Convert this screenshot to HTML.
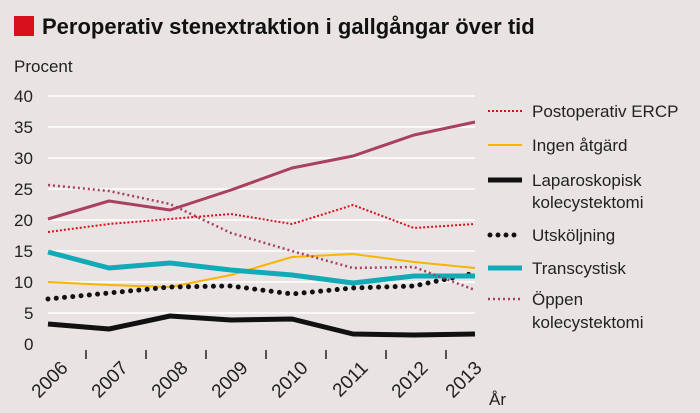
<!DOCTYPE html>
<html><head><meta charset="utf-8"><style>
body{margin:0;background:#e9e4e3;}
svg{display:block;font-family:"Liberation Sans",sans-serif;}
</style></head><body>
<svg width="700" height="413" viewBox="0 0 700 413">
<rect width="700" height="413" fill="#e9e4e3"/>
<rect x="14" y="16" width="20" height="20" fill="#d7101c"/>
<text x="42" y="34" font-size="22" font-weight="bold" fill="#111">Peroperativ stenextraktion i gallgångar över tid</text>
<text x="14" y="72" font-size="17" fill="#222">Procent</text>
<g stroke="#fff" stroke-width="1.5">
<line x1="48" x2="475" y1="96" y2="96"/><line x1="48" x2="475" y1="127" y2="127"/>
<line x1="48" x2="475" y1="158" y2="158"/><line x1="48" x2="475" y1="189" y2="189"/>
<line x1="48" x2="475" y1="220" y2="220"/><line x1="48" x2="475" y1="251" y2="251"/>
<line x1="48" x2="475" y1="282" y2="282"/><line x1="48" x2="475" y1="313" y2="313"/>
</g>
<g font-size="17" fill="#222">
<text x="14" y="102">40</text><text x="14" y="133">35</text><text x="14" y="164">30</text>
<text x="14" y="195">25</text><text x="14" y="226">20</text><text x="14" y="257">15</text>
<text x="14" y="288">10</text><text x="24" y="319">5</text><text x="24" y="350">0</text>
</g>
<g stroke="#222" stroke-width="1.5">
<line x1="86" x2="86" y1="350" y2="359"/><line x1="146" x2="146" y1="350" y2="359"/>
<line x1="206" x2="206" y1="350" y2="359"/><line x1="266" x2="266" y1="350" y2="359"/>
<line x1="326" x2="326" y1="350" y2="359"/><line x1="386" x2="386" y1="350" y2="359"/>
<line x1="446" x2="446" y1="350" y2="359"/>
</g>
<g font-size="19" fill="#222" text-anchor="end">
<text transform="translate(69,369) rotate(-45)">2006</text>
<text transform="translate(129,369) rotate(-45)">2007</text>
<text transform="translate(189,369) rotate(-45)">2008</text>
<text transform="translate(249,369) rotate(-45)">2009</text>
<text transform="translate(309,369) rotate(-45)">2010</text>
<text transform="translate(369,369) rotate(-45)">2011</text>
<text transform="translate(429,369) rotate(-45)">2012</text>
<text transform="translate(483,369) rotate(-45)">2013</text>
</g>
<text x="489" y="405" font-size="17" fill="#222">År</text>
<g fill="none" stroke-linejoin="round">
<polyline stroke="#a8405e" stroke-width="3" points="48,219 109,201 170,210 231,190 292,168 353,156 414,135 475,122"/>
<polyline stroke="#d7101c" stroke-width="2" stroke-dasharray="2,2" points="48,232 109,224 170,219 231,214 292,224 353,205 414,228 475,224"/>
<polyline stroke="#f7b500" stroke-width="2" points="48,282 109,285 170,287 231,275 292,257 353,254 414,262 475,268"/>
<polyline stroke="#111" stroke-width="5" points="48,324 109,329 170,316 231,320 292,319 353,334 414,335 475,334"/>
<polyline stroke="#111" stroke-width="5" stroke-linecap="round" stroke-dasharray="0,8.3" points="48,299 109,293 170,287 231,286 292,294 353,288 414,286 475,273"/>
<polyline stroke="#13aab7" stroke-width="5" points="48,252 109,268 170,263 231,270 292,275 353,283 414,276 475,276"/>
<polyline stroke="#a8405e" stroke-width="2.5" stroke-dasharray="2,3" points="48,185 109,191 170,204 231,233 292,251 353,268 414,267 475,290"/>
</g>
<g fill="none">
<line x1="488" x2="522" y1="111" y2="111" stroke="#d7101c" stroke-width="2" stroke-dasharray="2,2"/>
<line x1="488" x2="522" y1="145" y2="145" stroke="#f7b500" stroke-width="2"/>
<line x1="488" x2="522" y1="180" y2="180" stroke="#111" stroke-width="5"/>
<line x1="490" x2="522" y1="235" y2="235" stroke="#111" stroke-width="5" stroke-linecap="round" stroke-dasharray="0,8"/>
<line x1="488" x2="522" y1="268" y2="268" stroke="#13aab7" stroke-width="5"/>
<line x1="488" x2="522" y1="299" y2="299" stroke="#a8405e" stroke-width="2.5" stroke-dasharray="2,3"/>
</g>
<g font-size="17" fill="#222">
<text x="532" y="117">Postoperativ ERCP</text>
<text x="532" y="151">Ingen åtgärd</text>
<text x="532" y="186">Laparoskopisk</text>
<text x="532" y="208">kolecystektomi</text>
<text x="532" y="241">Utsköljning</text>
<text x="532" y="274">Transcystisk</text>
<text x="532" y="305">Öppen</text>
<text x="532" y="328">kolecystektomi</text>
</g>
</svg>
</body></html>
